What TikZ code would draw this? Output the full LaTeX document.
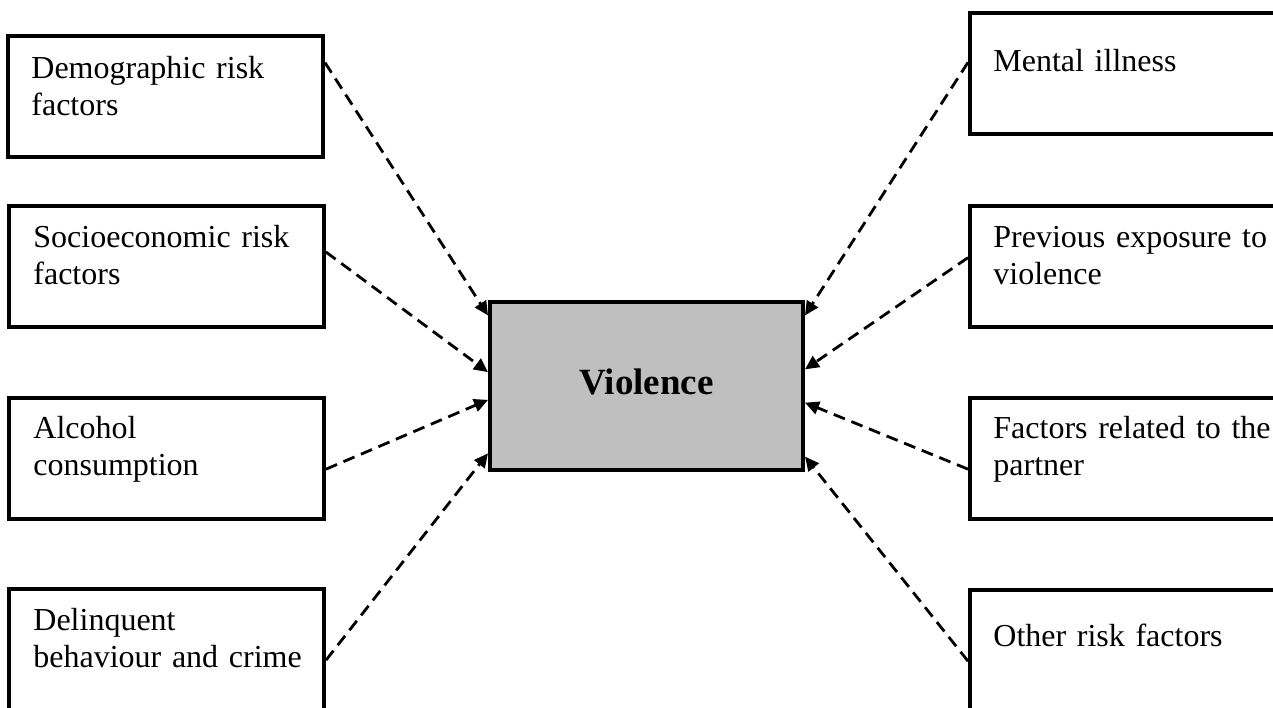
\documentclass[tikz,border=0pt]{standalone}
\usepackage{fontspec}
\setmainfont{Liberation Serif}
\usetikzlibrary{arrows.meta}

\begin{document}
\begin{tikzpicture}[x=0.5pt, y=-0.5pt,
  factor/.style={draw, line width=2pt, minimum width=157.5pt, minimum height=60.5pt, inner sep=0pt},
  factor_txt/.style={anchor=base west, align=left, text width=150pt, inner sep=0pt, font=\fontsize{16}{18.5}\selectfont},
  outcome/.style={draw, line width=2pt, fill=black!25, minimum width=156.5pt, minimum height=84pt, inner sep=0pt, text depth=0.46em, font=\fontsize{18.5}{21}\selectfont\bfseries},
  link/.style={dash pattern=on 6pt off 3.5pt, line width=1.4pt, -{Triangle[length=7pt,width=6.5pt]}}]

\useasboundingbox (0,0) rectangle (1273,707);
\clip (0,0) rectangle (1273,707);

\node[outcome] (violence) at (646.5,386) {Violence};

\node[factor] (factor_l1) at (165.5,96.5) {};
\node[factor] (factor_l2) at (166.5,266) {};
\node[factor] (factor_l3) at (166.5,458) {};
\node[factor] (factor_l4) at (166.5,649) {};
\node[factor] (factor_r1) at (1127.5,73.5) {};
\node[factor] (factor_r2) at (1127.5,266) {};
\node[factor] (factor_r3) at (1127.5,458) {};
\node[factor] (factor_r4) at (1127.5,650) {};

\node[factor_txt] (txt_l1) at (31,78) {Demographic risk\\factors};
\node[factor_txt] (txt_l2) at (33,247) {Socioeconomic risk\\factors};
\node[factor_txt] (txt_l3) at (33,438) {Alcohol\\consumption};
\node[factor_txt] (txt_l4) at (33,630) {Delinquent\\behaviour and crime};
\node[factor_txt] (txt_r1) at (993,71) {Mental illness};
\node[factor_txt] (txt_r2) at (993,247) {Previous exposure to\\violence};
\node[factor_txt] (txt_r3) at (993,438) {Factors related to the\\partner};
\node[factor_txt] (txt_r4) at (993,646) {Other risk factors};

\path[link] (factor_l1.12) edge (violence.156);
\path[link] (factor_l2.5) edge (violence.175);
\path[link] (factor_l3.356) edge (violence.185);
\path[link] (factor_l4.356) edge (violence.203);
\path[link] (factor_r1.176) edge (violence.24);
\path[link] (factor_r2.177) edge (violence.6);
\path[link] (factor_r3.184) edge (violence.354);
\path[link] (factor_r4.184) edge (violence.336);

\end{tikzpicture}
\end{document}
